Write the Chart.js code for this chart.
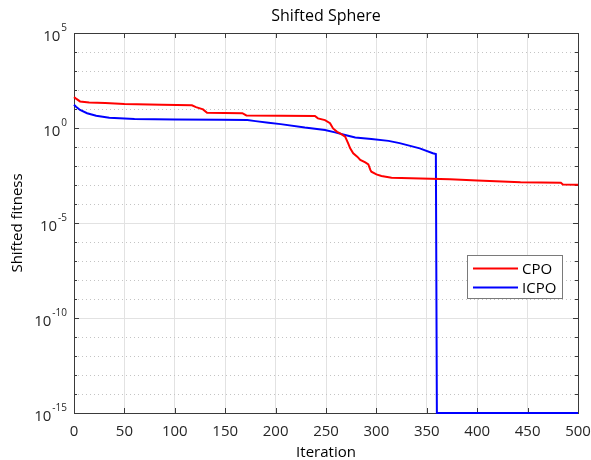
<!DOCTYPE html>
<html>
<head>
<meta charset="utf-8">
<script src="https://cdn.jsdelivr.net/npm/chart.js@4.4.1/dist/chart.umd.min.js"></script>
<style>
  html, body { margin: 0; padding: 0; background: #fff; }
  #wrap { width: 591px; height: 460px; }
</style>
</head>
<body>
<div id="wrap"><canvas id="chart" width="591" height="460"></canvas></div>
<script>
// ── Data ────────────────────────────────────────────────────────
const iterCPO = [0, 2, 6, 15, 31, 50, 87, 117, 121, 128, 132, 167, 171, 239, 242, 249, 254, 257, 261,
  264, 269, 272, 274, 277, 281, 284, 289, 292, 294, 295, 300, 305, 315, 373, 400, 443, 483, 485, 500];
const fitCPO = [42, 35, 25, 22, 21, 18.6, 16.6, 15.8, 12.6, 9.5, 6.3, 6.0, 4.6, 4.3, 3.2, 2.6, 1.8, 0.95, 0.63,
  0.52, 0.35, 0.155, 0.085, 0.047, 0.031, 0.021, 0.0155, 0.0123, 0.0062, 0.005, 0.0036, 0.003, 0.0024,
  0.002, 0.00174, 0.00141, 0.00132, 0.00107, 0.00102];

const iterICPO = [0, 2, 6, 13, 22, 35, 60, 100, 146, 172, 180, 193, 205, 229, 249, 259, 269, 279, 295,
  312, 323, 343, 356, 359, 360, 500];
const fitICPO = [16.6, 13.2, 8.9, 6.0, 4.4, 3.5, 3.0, 2.8, 2.7, 2.6, 2.3, 1.9, 1.6, 1.05, 0.79, 0.59, 0.43, 0.32, 0.26,
  0.21, 0.16, 0.085, 0.047, 0.043, 1e-15, 1e-15];

const xTicks = [0, 50, 100, 150, 200, 250, 300, 350, 400, 450, 500];
const yMajorExp = [-15, -10, -5, 0, 5];
const yMinorExp = [-14, -13, -12, -11, -9, -8, -7, -6, -4, -3, -2, -1, 1, 2, 3, 4];

const FONT = '"Open Sans", "DejaVu Sans", sans-serif';
const AXIS_COLOR = '#3a3a3a';

function toPoints(xs, ys) {
  return xs.map((x, i) => ({ x, y: ys[i] }));
}

// ── Plot decorations: minor grid, box, inner ticks, tick labels, legend ──
const decorations = {
  id: 'decorations',
  beforeDatasetsDraw(chart) {
    const { ctx, chartArea: a, scales: { x, y } } = chart;
    ctx.save();
    // dotted minor grid at each decade
    ctx.strokeStyle = '#c4c4c4';
    ctx.lineWidth = 1;
    ctx.setLineDash([1, 3]);
    yMinorExp.forEach(e => {
      const py = Math.round(y.getPixelForValue(Math.pow(10, e))) + 0.5;
      ctx.beginPath();
      ctx.moveTo(a.left, py);
      ctx.lineTo(a.right, py);
      ctx.stroke();
    });
    ctx.setLineDash([]);

    // box
    ctx.strokeStyle = AXIS_COLOR;
    ctx.lineWidth = 1;
    ctx.strokeRect(Math.round(a.left) + 0.5, Math.round(a.top) + 0.5,
      Math.round(a.right - a.left), Math.round(a.bottom - a.top));

    // inner ticks
    ctx.beginPath();
    xTicks.forEach(v => {
      const px = Math.round(x.getPixelForValue(v)) + 0.5;
      ctx.moveTo(px, a.bottom); ctx.lineTo(px, a.bottom - 5);
      ctx.moveTo(px, a.top); ctx.lineTo(px, a.top + 5);
    });
    yMajorExp.concat(yMinorExp).forEach(e => {
      const len = yMajorExp.includes(e) ? 5 : 3;
      const py = Math.round(y.getPixelForValue(Math.pow(10, e))) + 0.5;
      ctx.moveTo(a.left, py); ctx.lineTo(a.left + len, py);
      ctx.moveTo(a.right, py); ctx.lineTo(a.right - len, py);
    });
    ctx.stroke();
    ctx.restore();
  },
  afterDraw(chart) {
    const { ctx, chartArea: a, scales: { y } } = chart;
    ctx.save();
    // y tick labels as 10^n
    ctx.fillStyle = '#262626';
    ctx.textBaseline = 'middle';
    yMajorExp.forEach(e => {
      const py = y.getPixelForValue(Math.pow(10, e));
      const right = a.left - 7;
      ctx.font = '10px ' + FONT;
      const expTxt = String(e);
      const ew = ctx.measureText(expTxt).width;
      ctx.textAlign = 'left';
      ctx.fillText(expTxt, right - ew, py - 5);
      ctx.font = '15px ' + FONT;
      ctx.textAlign = 'right';
      ctx.fillText('10', right - ew - 1, py + 4);
    });

    // legend
    const bx = 467, by = 255, bw = 95, bh = 43;
    ctx.fillStyle = '#fff';
    ctx.fillRect(bx, by, bw, bh);
    ctx.strokeStyle = '#7a7a7a';
    ctx.lineWidth = 1;
    ctx.strokeRect(bx + 0.5, by + 0.5, bw, bh);
    chart.data.datasets.forEach((ds, i) => {
      const ly = by + 13.5 + i * 19;
      ctx.strokeStyle = ds.borderColor;
      ctx.lineWidth = 2;
      ctx.beginPath();
      ctx.moveTo(bx + 6, ly);
      ctx.lineTo(bx + 51, ly);
      ctx.stroke();
      ctx.fillStyle = '#000';
      ctx.font = '15px ' + FONT;
      ctx.textAlign = 'left';
      ctx.textBaseline = 'middle';
      ctx.fillText(ds.label, bx + 55, ly + 1);
    });
    ctx.restore();
  }
};

new Chart(document.getElementById('chart'), {
  type: 'line',
  data: {
    datasets: [
      {
        label: 'CPO',
        data: toPoints(iterCPO, fitCPO),
        borderColor: '#ff0000',
        borderWidth: 2,
        pointRadius: 0,
        tension: 0,
        clip: false
      },
      {
        label: 'ICPO',
        data: toPoints(iterICPO, fitICPO),
        borderColor: '#0000ff',
        borderWidth: 2,
        pointRadius: 0,
        tension: 0,
        clip: false
      }
    ]
  },
  options: {
    responsive: false,
    animation: false,
    events: [],
    layout: { padding: { left: 0, right: 13, top: 0, bottom: 0 } },
    plugins: {
      legend: { display: false },
      tooltip: { enabled: false },
      title: {
        display: true,
        text: 'Shifted Sphere',
        fullSize: false,
        color: '#000',
        font: { family: FONT, size: 16, weight: 'normal', lineHeight: 1.2 },
        padding: { top: 7, bottom: 6.8 }
      }
    },
    scales: {
      x: {
        type: 'linear',
        min: 0,
        max: 500,
        afterBuildTicks: s => { s.ticks = xTicks.map(v => ({ value: v })); },
        afterFit: s => { s.height = 47; s.paddingLeft = 0; s.paddingRight = 0; },
        grid: { color: '#e2e2e2', drawTicks: false },
        border: { display: false },
        ticks: {
          color: '#262626',
          padding: 10,
          maxRotation: 0,
          autoSkip: false,
          font: { family: FONT, size: 15 }
        },
        title: {
          display: true,
          text: 'Iteration',
          color: '#000',
          font: { family: FONT, size: 15, lineHeight: 1.0 },
          padding: { top: 0, bottom: 0 }
        }
      },
      y: {
        type: 'logarithmic',
        min: 1e-15,
        max: 1e5,
        afterBuildTicks: s => { s.ticks = yMajorExp.map(e => ({ value: Math.pow(10, e) })); },
        afterFit: s => { s.width = 74; s.paddingTop = 0; s.paddingBottom = 0; },
        grid: { color: '#e2e2e2', drawTicks: false },
        border: { display: false },
        ticks: { display: false },
        title: {
          display: true,
          text: 'Shifted fitness',
          color: '#000',
          font: { family: FONT, size: 15 },
          padding: { top: 9, bottom: 0 }
        }
      }
    }
  },
  plugins: [decorations]
});
</script>
</body>
</html>
